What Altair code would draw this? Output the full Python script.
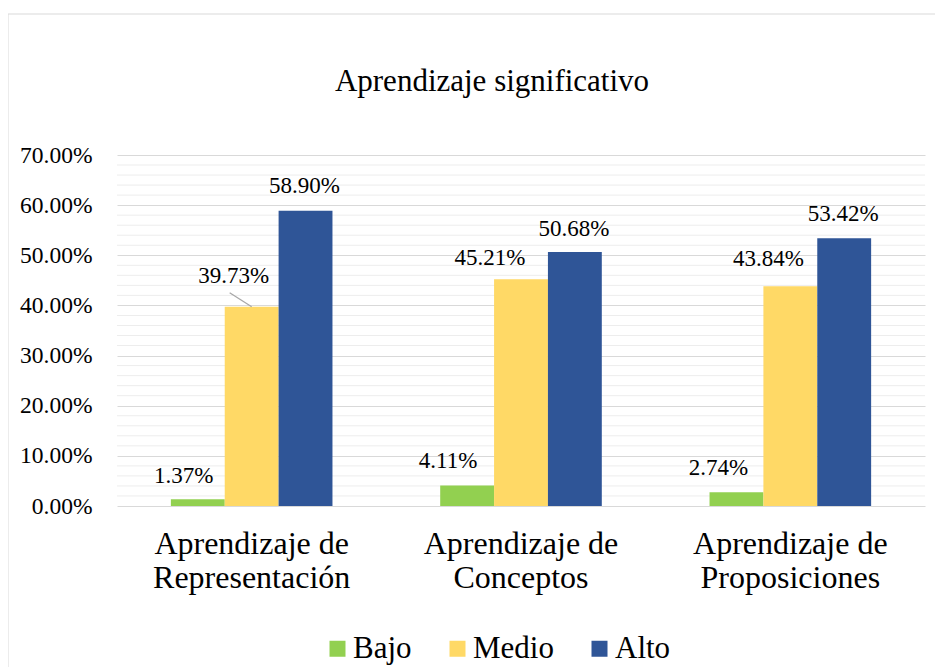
import altair as alt
import pandas as pd

categories = ["Aprendizaje de Representación", "Aprendizaje de Conceptos", "Aprendizaje de Proposiciones"]
series = ["Bajo", "Medio", "Alto"]
bajo = [0.0137, 0.0411, 0.0274]
medio = [0.3973, 0.4521, 0.4384]
alto = [0.5890, 0.5068, 0.5342]
colors = ["#92D050", "#FFD966", "#2F5597"]
major_ticks = [0.0, 0.1, 0.2, 0.3, 0.4, 0.5, 0.6, 0.7]
minor_ticks = [0.02, 0.04, 0.06, 0.08, 0.12, 0.14, 0.16, 0.18, 0.22, 0.24, 0.26, 0.28,
               0.32, 0.34, 0.36, 0.38, 0.42, 0.44, 0.46, 0.48, 0.52, 0.54, 0.56, 0.58,
               0.62, 0.64, 0.66, 0.68]
title_text = "Aprendizaje  significativo"

# label nudges (style only): per category, per series (dx, dy) in pixels
label_nudge = {
    (0, "Bajo"): (-14, -16), (0, "Medio"): (-18, -24), (0, "Alto"): (-1, -18),
    (1, "Bajo"): (-19, -17), (1, "Medio"): (-31, -14), (1, "Alto"): (-1, -16),
    (2, "Bajo"): (-18, -17), (2, "Medio"): (-22, -20), (2, "Alto"): (-1, -17),
}

rows = []
for i, c in enumerate(categories):
    for s, vals in zip(series, [bajo, medio, alto]):
        rows.append({"cat": c, "serie": s, "value": vals[i], "idx": i})
df = pd.DataFrame(rows)
minor_df = pd.DataFrame({"v": minor_ticks})
title_df = pd.DataFrame({"t": [title_text]})

FONT = "Liberation Serif"

xenc = alt.X("cat:N", sort=categories, title=None,
             scale=alt.Scale(paddingInner=0.4, paddingOuter=0.2),
             axis=alt.Axis(labelAngle=0, labelFontSize=32, labelFont=FONT, labelColor="#000000",
                           labelExpr="[substring(datum.label, 0, 14), substring(datum.label, 15)]",
                           labelLineHeight=34, labelPadding=22, ticks=False, domain=False,
                           labelBaseline="top", labelLimit=600))
yscale = alt.Scale(domain=[0, 0.7], nice=False)

minor = alt.Chart(minor_df).mark_rule(color="#ededed", strokeWidth=1).encode(
    y=alt.Y("v:Q", scale=yscale)
)

base = alt.Chart(df)

bars = base.mark_bar().encode(
    x=xenc,
    xOffset=alt.XOffset("serie:N", sort=series, scale=alt.Scale(paddingInner=0, paddingOuter=0)),
    y=alt.Y("value:Q", scale=yscale, title=None,
            axis=alt.Axis(values=major_ticks, format=".2%", labelFontSize=23.5, labelFont=FONT,
                          labelColor="#000000", labelPadding=25, ticks=False, domain=False,
                          gridColor="#d9d9d9", gridWidth=1)),
    color=alt.Color("serie:N", sort=series, scale=alt.Scale(domain=series, range=colors),
                    legend=alt.Legend(title=None, orient="none", direction="horizontal",
                                      legendX=205, legendY=478, labelFontSize=31, labelFont=FONT,
                                      labelColor="#000000", symbolType="square", symbolSize=256,
                                      symbolStrokeWidth=0, symbolOpacity=1, columnPadding=30,
                                      labelOffset=0, labelLimit=300, padding=0)),
)

text_layers = []
for (i, s), (ddx, ddy) in label_nudge.items():
    text_layers.append(
        base.transform_filter(f"datum.idx == {i} && datum.serie == '{s}'")
        .mark_text(fontSize=23, font=FONT, color="#000000", dx=ddx, dy=ddy, baseline="alphabetic")
        .encode(
            x=alt.X("cat:N", sort=categories),
            xOffset=alt.XOffset("serie:N", sort=series),
            y=alt.Y("value:Q", scale=yscale),
            text=alt.Text("value:Q", format=".2%"),
        )
    )

# leader line from the displaced 39.73% label to its bar
leader = base.transform_filter("datum.idx == 0 && datum.serie == 'Medio'").mark_point(
    shape="M0,0L-1,-0.64", size=1936, filled=False, stroke="#a6a6a6", strokeWidth=1.2, opacity=1
).encode(
    x=alt.X("cat:N", sort=categories),
    xOffset=alt.XOffset("serie:N", sort=series),
    y=alt.Y("value:Q", scale=yscale),
)

title_mark = alt.Chart(title_df).mark_text(fontSize=31, font=FONT, color="#000000",
                                           baseline="alphabetic", align="center", clip=False).encode(
    x=alt.value(375), y=alt.value(-64), text="t:N"
)

border_top = alt.Chart(title_df).mark_rule(color="#d9d9d9", strokeWidth=1, clip=False).encode(
    x=alt.value(-109), x2=alt.value(830), y=alt.value(-141)
)
border_left = alt.Chart(title_df).mark_rule(color="#d9d9d9", strokeWidth=1, clip=False).encode(
    x=alt.value(-109), y=alt.value(-141), y2=alt.value(530)
)

chart = alt.layer(minor, bars, leader, *text_layers, title_mark, border_top, border_left).properties(
    width=808, height=351,
    autosize=alt.AutoSizeParams(type="none"),
    padding={"left": 109, "top": 147, "right": 10, "bottom": 165},
    background="#ffffff",
).configure(font=FONT).configure_view(stroke=None)

chart.save("out.html", embed_options={"renderer": "svg", "actions": False})
